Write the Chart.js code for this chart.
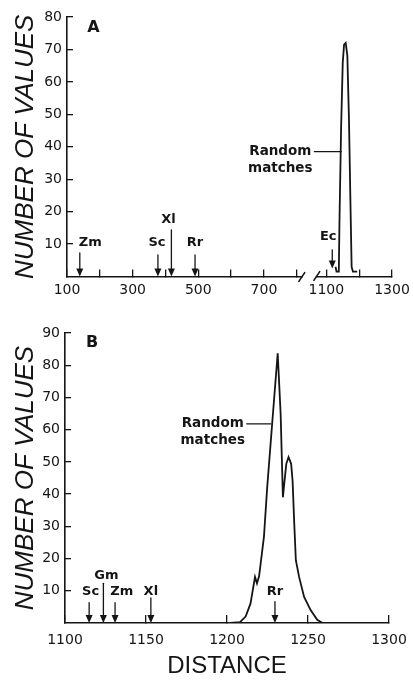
<!DOCTYPE html>
<html>
<head>
<meta charset="utf-8">
<script src="https://cdn.jsdelivr.net/npm/chart.js@4.4.0/dist/chart.umd.min.js"></script>
<style>
  body { margin: 0; background: #fff; }
  canvas { position: absolute; left: 0; }
  #chartA { top: 0; }
  #chartB { top: 300px; }
</style>
</head>
<body>
<canvas id="chartA" width="413" height="300"></canvas>
<canvas id="chartB" width="413" height="382"></canvas>
<script>
// Panel A - random matches
const distA = [1128, 1131, 1138, 1140, 1145, 1150, 1154, 1159, 1164, 1169, 1173, 1177, 1181, 1194];
const countA = [3, 1.5, 1.5, 17, 46, 66, 71.5, 72, 68, 48, 25, 3, 1.5, 1.5];
// Panel A - species arrows
const speciesA = ['Zm', 'Sc', 'Xl', 'Rr', 'Ec'];
const speciesDistA = [139, 377, 418, 490, 1118];
const arrowEndA = [0, 0, 0, 0, 2.5];
const xTicksA = [100, 200, 300, 400, 500, 600, 700, 800, 1100, 1200, 1300];
const xLabelsA = [100, 300, 500, 700, 1100, 1300];

// Panel B - random matches
const distB = [1202, 1208, 1211.5, 1214.5, 1217.3, 1218.5, 1219.8, 1222.8, 1224.8, 1227.9, 1231.3, 1233.1,
  1234.5, 1235.3, 1236.6, 1238, 1239.6, 1240.5, 1241.5, 1242.5, 1244.5, 1247.6, 1251.6, 1255.7, 1259];
const countB = [0, 0.3, 2, 6, 14.3, 12.3, 14.5, 26.7, 42, 62, 83.7, 65,
  39, 43, 49.4, 51.5, 49.4, 44, 31, 19.5, 14.3, 8.1, 4, 1, 0];
// Panel B - species arrows
const speciesB = ['Sc', 'Gm', 'Zm', 'Xl', 'Rr'];
const speciesDistB = [1114.9, 1123.7, 1130.9, 1153, 1229.6];
const arrowEndB = [0, 0, 0, 0, 0];
const xTicksB = [1100, 1150, 1200, 1250, 1300];

const INK = '#151515';
const SHIFT = 210; // chunk of distance cut out of the panel A axis (break)
const mapA = d => d >= 1000 ? d - SHIFT : d;
const unmapA = v => v > 850 ? v + SHIFT : v;

Chart.defaults.font.family = 'DejaVu Sans';
Chart.defaults.color = INK;

const marksPlugin = {
  id: 'marks',
  afterDraw(chart, args, o) {
    const ctx = chart.ctx, xs = chart.scales.x, ys = chart.scales.y;
    const px = v => xs.getPixelForValue(o.map ? o.map(v) : v);
    const y0 = ys.getPixelForValue(0);
    ctx.save();
    ctx.strokeStyle = INK;
    ctx.fillStyle = INK;
    ctx.lineCap = 'round';

    // broken axis
    if (o.breakAt != null) {
      const a = px(o.breakAt) + 5, b = px(o.breakAt) + 20;
      ctx.fillStyle = '#fff';
      ctx.fillRect(a + 1, y0 - 2, b - a - 2, 4);
      ctx.fillStyle = INK;
      ctx.lineWidth = 1.4;
      ctx.beginPath();
      ctx.moveTo(a - 3, y0 + 5); ctx.lineTo(a + 3, y0 - 4);
      ctx.moveTo(b - 3, y0 + 4); ctx.lineTo(b + 3, y0 - 5);
      ctx.stroke();
    }

    // species arrows
    ctx.font = 'bold 13px "DejaVu Sans"';
    ctx.textAlign = 'center';
    ctx.textBaseline = 'middle';
    o.names.forEach((name, i) => {
      const x = px(o.dist[i]);
      const yb = ys.getPixelForValue(o.end[i]);
      const yt = y0 - o.len[i];
      ctx.lineWidth = 1.3;
      ctx.beginPath();
      ctx.moveTo(x, yt); ctx.lineTo(x, yb - 7);
      ctx.stroke();
      ctx.beginPath();
      ctx.moveTo(x - 3.5, yb - 8); ctx.lineTo(x + 3.5, yb - 8); ctx.lineTo(x, yb);
      ctx.closePath(); ctx.fill();
      ctx.fillText(name, x + o.dx[i], y0 - o.lift[i]);
    });

    // panel letter
    ctx.font = 'bold 16px "DejaVu Sans"';
    ctx.fillText(o.letter, o.letterPos[0], o.letterPos[1]);

    // "Random matches" callout
    const ax = px(o.callout[0]), ay = ys.getPixelForValue(o.callout[1]);
    const sx = ax - o.leader;
    ctx.lineWidth = 1.3;
    ctx.beginPath(); ctx.moveTo(sx, ay); ctx.lineTo(ax, ay); ctx.stroke();
    ctx.font = 'bold 13.5px "DejaVu Sans"';
    ctx.fillText('Random', sx - 34, ay);
    ctx.fillText('matches', sx - 34, ay + 17);
    ctx.restore();
  }
};

const tickFont = { family: 'DejaVu Sans', size: 14 };
const titleFont = { family: 'Liberation Sans', size: 26, style: 'italic' };
const hideZero = c => (c.tick && c.tick.value === 0) ? 'rgba(0,0,0,0)' : INK;
const fitX = h => s => { s.height = h; s.paddingLeft = 0; s.paddingRight = 0; };
const fitY = w => s => { s.width = w; s.paddingTop = 0; s.paddingBottom = 0; };

new Chart(document.getElementById('chartA'), {
  type: 'line',
  data: {
    datasets: [{
      data: distA.map((d, i) => ({ x: mapA(d), y: countA[i] })),
      borderColor: INK,
      borderWidth: 1.8,
      pointRadius: 0,
      tension: 0,
      fill: false
    }]
  },
  options: {
    responsive: false,
    animation: false,
    layout: { padding: { left: 0, right: 21, top: 17, bottom: 0 } },
    plugins: {
      legend: { display: false },
      tooltip: { enabled: false },
      marks: {
        map: mapA,
        breakAt: 800,
        names: speciesA,
        dist: speciesDistA,
        end: arrowEndA,
        len: [23.5, 21.5, 46.5, 21.5, 26.5],
        lift: [33.5, 33.5, 56.5, 33.5, 39.5],
        dx: [10.5, -1, -3, 0, -4],
        letter: 'A',
        letterPos: [93.5, 28],
        callout: [1145.6, 38.5],
        leader: 27
      }
    },
    scales: {
      x: {
        type: 'linear',
        min: mapA(100),
        max: mapA(1300),
        afterBuildTicks: s => { s.ticks = xTicksA.map(v => ({ value: mapA(v) })); },
        afterFit: fitX(23.5),
        grid: { drawOnChartArea: false, tickLength: -7, color: INK, lineWidth: 1.3 },
        border: { color: INK, width: 1.6 },
        ticks: {
          font: tickFont, padding: 12, autoSkip: false, maxRotation: 0,
          callback: v => xLabelsA.includes(unmapA(v)) ? String(unmapA(v)) : ''
        }
      },
      y: {
        min: 0,
        max: 80,
        afterFit: fitY(67),
        grid: { drawOnChartArea: false, tickLength: -6, color: hideZero, lineWidth: 1.3 },
        border: { color: INK, width: 1.6 },
        ticks: { stepSize: 10, font: tickFont, padding: 11, callback: v => v === 0 ? '' : String(v) },
        title: { display: true, text: 'NUMBER OF VALUES', font: titleFont, padding: { top: 10, bottom: 0 } }
      }
    }
  },
  plugins: [marksPlugin]
});

new Chart(document.getElementById('chartB'), {
  type: 'line',
  data: {
    datasets: [{
      data: distB.map((d, i) => ({ x: d, y: countB[i] })),
      borderColor: INK,
      borderWidth: 1.8,
      pointRadius: 0,
      tension: 0,
      fill: false
    }]
  },
  options: {
    responsive: false,
    animation: false,
    layout: { padding: { left: 0, right: 24, top: 33, bottom: 0 } },
    plugins: {
      legend: { display: false },
      tooltip: { enabled: false },
      marks: {
        names: speciesB,
        dist: speciesDistB,
        end: arrowEndB,
        len: [20.3, 39.7, 20.3, 25, 21.3],
        lift: [31, 47, 31, 31, 31],
        dx: [1.5, 3, 6.7, 0, 0],
        letter: 'B',
        letterPos: [92, 43],
        callout: [1227, 61.8],
        leader: 24
      }
    },
    scales: {
      x: {
        type: 'linear',
        min: 1100,
        max: 1300,
        afterBuildTicks: s => { s.ticks = xTicksB.map(v => ({ value: v })); },
        afterFit: fitX(59),
        grid: { drawOnChartArea: false, tickLength: -8, color: INK, lineWidth: 1.3 },
        border: { color: INK, width: 1.6 },
        ticks: { font: tickFont, padding: 17, autoSkip: false, maxRotation: 0, callback: v => String(v) },
        title: { display: true, text: 'DISTANCE', font: { family: 'Liberation Sans', size: 24 }, padding: { top: 0, bottom: 1 } }
      },
      y: {
        min: 0,
        max: 90,
        afterFit: fitY(65),
        grid: { drawOnChartArea: false, tickLength: -6, color: hideZero, lineWidth: 1.3 },
        border: { color: INK, width: 1.6 },
        ticks: { stepSize: 10, font: tickFont, padding: 11, callback: v => v === 0 ? '' : String(v) },
        title: { display: true, text: 'NUMBER OF VALUES', font: titleFont, padding: { top: 10, bottom: 0 } }
      }
    }
  },
  plugins: [marksPlugin]
});
</script>
</body>
</html>
